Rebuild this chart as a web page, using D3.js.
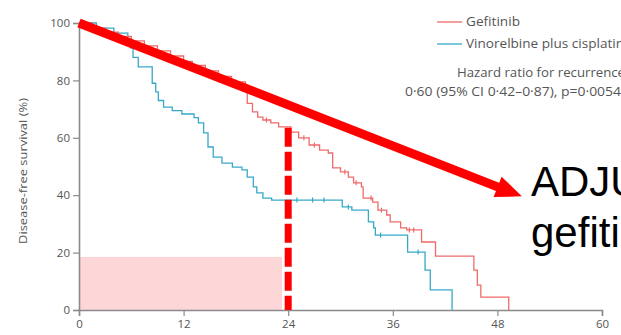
<!DOCTYPE html>
<html><head><meta charset="utf-8">
<script src="https://cdn.jsdelivr.net/npm/d3@7"></script>
<style>html,body{margin:0;padding:0;background:#fff;overflow:hidden}</style>
</head><body><svg id="c" width="621" height="335"></svg>
<script>
// ---- data ----
const gefTimes = [0,1.5,3,4.5,6,7.5,9,10.5,12,13,14.5,16,17.5,19.1,19.3,19.9,20.5,21.1,22,22.9,24.3,25.2,26.4,27.6,28.6,29.1,30,30.9,31.5,32.4,32.6,33.7,34.3,35.3,35.7,36.9,37.6,39.3,40.9,45.3,45.7,46.1,49.3];
const gefSurv  = [100,98.2,96.8,95.3,93.8,92,90.3,88.5,86.6,85.2,83.3,81.4,79.5,76,72,69,67.2,66.2,65.2,63.8,62,60,57.5,55.7,54.7,49.5,48.1,46.3,44.3,42.9,39,37.6,34.8,33.1,30.7,28.6,27.9,23.7,18.8,13.9,8.7,4.5,0];
const vinTimes = [0,2,4,5.6,5.9,6.2,6.8,8.4,8.8,9.1,9.7,10.7,11.8,13.2,13.7,14.3,14.8,15.4,16.4,17.6,18.7,19.3,20,20.4,21.1,22.1,30.2,31.3,33.2,33.8,34,37.7,39.7,40.3,42.8];
const vinSurv  = [100,98.2,96.5,94,91.3,88,84.7,79,76,73,70.7,69.5,68.3,67,65.2,61.7,56.8,53.3,51.2,49.8,48.8,46.3,42.9,40.8,39,38.3,35.9,34.8,30.7,28.6,26.1,20.2,13.9,7,0];
const gefCensor = [21.5,25.8,27,30.5,31.8,33.5,34.7,37.9,38.4];
const vinCensor = [25,26.8,28.1,30.9,34.6,38.9];
const xTicks = [0,12,24,36,48,60];
const yTicks = [0,20,40,60,80,100];
const legendLabels = ["Gefitinib","Vinorelbine plus cisplatin"];
const hrLines = ["Hazard ratio for recurrence","0·60 (95% CI 0·42–0·87), p=0·0054"];
const bigText = ["ADJU","gefiti"];
const landmarkMonth = [24];
const shadeBox = [23.3, 18.5]; // months, percent
const arrowFrom = [0,100], arrowTo = [50.8, 39.6];

// ---- drawing ----
const svg = d3.select("#c");
svg.append("rect").attr("width",621).attr("height",335).attr("fill","#fff");
const x = d3.scaleLinear().domain([0,60]).range([79,602]);
const y = d3.scaleLinear().domain([0,100]).range([310,23]);
const RED = "#f06a6a", BLUE = "#36a9c9", AX = "#8a8a8a", TXT = "#555";
const font = "'Liberation Sans Narrow','Open Sans',Arial,sans-serif";

// shaded box
svg.append("rect").attr("x",x(0)).attr("y",y(shadeBox[1]))
  .attr("width",x(shadeBox[0])-x(0)).attr("height",y(0)-y(shadeBox[1]))
  .attr("fill","#fdd6d7");

// axes
const yAxis = svg.append("g").attr("transform",`translate(${x(0)},0)`)
  .call(d3.axisLeft(y).tickValues(yTicks).tickSize(6).tickPadding(3));
const xAxis = svg.append("g").attr("transform",`translate(0,${y(0)})`)
  .call(d3.axisBottom(x).tickValues(xTicks).tickSize(6).tickPadding(4));
[yAxis,xAxis].forEach(g=>{
  g.select(".domain").attr("stroke",AX).attr("stroke-width",1.6);
  g.selectAll(".tick line").attr("stroke",AX).attr("stroke-width",1.2);
  g.selectAll(".tick text").attr("fill",TXT).attr("font-size",11.5).attr("font-family",font);
});
svg.append("text").attr("transform",`translate(27,${171}) rotate(-90)`)
  .attr("text-anchor","middle").attr("font-size",11.5).attr("font-family",font)
  .attr("fill",TXT).attr("textLength",146).attr("lengthAdjust","spacingAndGlyphs")
  .text("Disease-free survival (%)");

// curves
const line = d3.line().x(d=>x(d[0])).y(d=>y(d[1])).curve(d3.curveStepAfter);
const gef = gefTimes.map((t,i)=>[t,gefSurv[i]]);
const vin = vinTimes.map((t,i)=>[t,vinSurv[i]]);
function survAt(times,surv,t){let v=surv[0];for(let i=0;i<times.length;i++){if(times[i]<=t)v=surv[i];}return v;}
[[vin,BLUE,vinTimes,vinSurv,vinCensor],[gef,RED,gefTimes,gefSurv,gefCensor]].forEach(([d,c,T,S,C])=>{
  svg.append("path").attr("d",line(d)).attr("fill","none").attr("stroke",c).attr("stroke-width",1.3);
  svg.selectAll(null).data(C).enter().append("line")
    .attr("x1",t=>x(t)).attr("x2",t=>x(t))
    .attr("y1",t=>y(survAt(T,S,t))-2.5).attr("y2",t=>y(survAt(T,S,t))+2.5)
    .attr("stroke",c).attr("stroke-width",1.2);
});

// legend
legendLabels.forEach((l,i)=>{
  const yy = 22 + i*22;
  svg.append("line").attr("x1",437).attr("x2",462).attr("y1",yy).attr("y2",yy)
    .attr("stroke",i?BLUE:RED).attr("stroke-width",1.3);
  svg.append("text").attr("x",466).attr("y",yy+4).attr("font-size",12).attr("font-family",font)
    .attr("fill",TXT).attr("textLength",i?158:54).attr("lengthAdjust","spacingAndGlyphs").text(l);
});
svg.append("text").attr("x",457).attr("y",77).attr("font-size",12).attr("font-family",font)
  .attr("fill",TXT).attr("textLength",168).attr("lengthAdjust","spacingAndGlyphs").text(hrLines[0]);
svg.append("text").attr("x",405).attr("y",96).attr("font-size",12).attr("font-family",font)
  .attr("fill",TXT).attr("textLength",216).attr("lengthAdjust","spacingAndGlyphs").text(hrLines[1]);

// dashed landmark line
svg.append("line").attr("x1",x(landmarkMonth[0])).attr("x2",x(landmarkMonth[0]))
  .attr("y1",y(63.5)).attr("y2",y(0)).attr("stroke","#ff0000").attr("stroke-width",7)
  .attr("stroke-dasharray","19,5");

// big arrow
const ax0 = x(arrowFrom[0]), ay0 = y(arrowFrom[1]), ax1 = x(arrowTo[0]), ay1 = y(arrowTo[1]);
const ang = Math.atan2(ay1-ay0, ax1-ax0);
const headLen = 26, headW = 11;
const bx = ax1 - headLen*Math.cos(ang), by = ay1 - headLen*Math.sin(ang);
svg.append("line").attr("x1",ax0).attr("y1",ay0).attr("x2",bx+2*Math.cos(ang)).attr("y2",by+2*Math.sin(ang))
  .attr("stroke","#ff0000").attr("stroke-width",9);
const px = -Math.sin(ang), py = Math.cos(ang);
svg.append("path").attr("d",`M${ax1},${ay1}L${bx+px*headW},${by+py*headW}L${bx-px*headW},${by-py*headW}Z`)
  .attr("fill","#ff0000");

// big text (cut at the right edge, as in the reference)
bigText.forEach((t,i)=>{
  svg.append("text").attr("x",531).attr("y",196+i*51).attr("font-size",42)
    .attr("font-family","'Liberation Sans',Arial,sans-serif").attr("fill","#000").text(t);
});
</script></body></html>
